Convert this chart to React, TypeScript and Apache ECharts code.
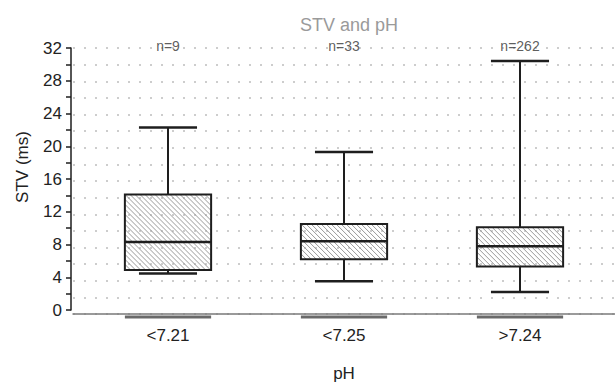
import React, { useEffect, useRef } from "react";
import * as echarts from "echarts";

const categories = ["<7.21", "<7.25", ">7.24"];
const lowWhisker = [4.45, 3.5, 2.2];
const q1 = [4.9, 6.2, 5.3];
const median = [8.3, 8.4, 7.8];
const q3 = [14.1, 10.5, 10.1];
const highWhisker = [22.3, 19.3, 30.4];
const counts = [9, 33, 262];
const yTicks = { min: 0, max: 32, interval: 4 };

const FONT = "'Liberation Sans', Arial, Helvetica, sans-serif";

export default function App() {
  const ref = useRef<HTMLDivElement>(null);
  useEffect(() => {
    if (!ref.current) return;
    const chart = echarts.init(ref.current, null, { renderer: "svg" });
    const boxData = categories.map((_, i) => [
      i,
      lowWhisker[i],
      q1[i],
      median[i],
      q3[i],
      highWhisker[i],
    ]);
    const countData = categories.map((_, i) => [i, yTicks.max, counts[i]]);

    const renderItem = (params: any, api: any) => {
      const idx = api.value(0);
      const low = api.coord([idx, api.value(1)]);
      const pq1 = api.coord([idx, api.value(2)]);
      const pmed = api.coord([idx, api.value(3)]);
      const pq3 = api.coord([idx, api.value(4)]);
      const high = api.coord([idx, api.value(5)]);
      const base = api.coord([idx, 0]);
      const band = api.size([1, 0])[0];
      const bw = band * 0.49;
      const cw = band * 0.33;
      const cx = low[0];
      const x0 = cx - bw / 2;
      const x1 = cx + bw / 2;
      const yTop = pq3[1];
      const yBot = pq1[1];
      const children: any[] = [];
      const step = 5;
      for (let c = yTop - x1 + 1; c < yBot - x0; c += step) {
        const xa = Math.max(x0, yTop - c);
        const xb = Math.min(x1, yBot - c);
        if (xb <= xa) continue;
        children.push({
          type: "line",
          shape: { x1: xa, y1: xa + c, x2: xb, y2: xb + c },
          style: { stroke: "#9a9a9a", lineWidth: 1 },
        });
      }
      const stroke = "#1e1e1e";
      children.push({
        type: "rect",
        shape: { x: x0, y: yTop, width: bw, height: yBot - yTop },
        style: { fill: "none", stroke, lineWidth: 2 },
      });
      children.push({
        type: "line",
        shape: { x1: x0, y1: pmed[1], x2: x1, y2: pmed[1] },
        style: { stroke, lineWidth: 2.5 },
      });
      children.push({
        type: "line",
        shape: { x1: cx, y1: yTop, x2: cx, y2: high[1] },
        style: { stroke, lineWidth: 2 },
      });
      children.push({
        type: "line",
        shape: { x1: cx, y1: yBot, x2: cx, y2: low[1] },
        style: { stroke, lineWidth: 2 },
      });
      children.push({
        type: "line",
        shape: { x1: cx - cw / 2, y1: high[1], x2: cx + cw / 2, y2: high[1] },
        style: { stroke, lineWidth: 2.5 },
      });
      children.push({
        type: "line",
        shape: { x1: cx - cw / 2, y1: low[1], x2: cx + cw / 2, y2: low[1] },
        style: { stroke, lineWidth: 2.5 },
      });
      children.push({
        type: "line",
        shape: { x1: x0, y1: base[1] + 7, x2: x1, y2: base[1] + 7 },
        style: { stroke: "#6a6a6a", lineWidth: 3 },
      });
      return { type: "group", children };
    };

    chart.setOption({
      animation: false,
      backgroundColor: "#ffffff",
      textStyle: { fontFamily: FONT },
      title: {
        text: "STV and pH",
        left: 344,
        top: 11,
        textAlign: "center",
        textStyle: {
          color: "#9a9a9a",
          fontSize: 18,
          fontWeight: "normal",
          fontFamily: FONT,
        },
      },
      grid: [
        { left: 80, width: 528, top: 48, bottom: 73 },
        { left: 73, right: 0, top: 48, bottom: 73 },
      ],
      xAxis: [
        {
          type: "category",
          gridIndex: 0,
          data: categories,
          offset: 7,
          axisLine: { show: false },
          axisTick: { show: false },
          axisLabel: {
            color: "#222",
            fontSize: 17,
            margin: 10,
            fontFamily: FONT,
          },
          name: "pH",
          nameLocation: "middle",
          nameGap: 48,
          nameTextStyle: { color: "#222", fontSize: 17, fontFamily: FONT },
        },
        {
          type: "value",
          gridIndex: 1,
          min: 0,
          max: 1,
          offset: 7,
          axisLine: { show: true, lineStyle: { color: "#7a7a7a", width: 1.5 } },
          axisTick: { show: false },
          axisLabel: { show: false },
          splitLine: { show: false },
        },
      ],
      yAxis: [
        {
          type: "value",
          gridIndex: 0,
          min: yTicks.min,
          max: yTicks.max,
          interval: yTicks.interval,
          offset: 9,
          axisLine: { show: true, lineStyle: { color: "#1e1e1e", width: 1.5 } },
          axisTick: {
            show: true,
            length: 5,
            lineStyle: { color: "#1e1e1e", width: 1.5 },
          },
          minorTick: {
            show: true,
            splitNumber: 2,
            length: 5,
            lineStyle: { color: "#1e1e1e", width: 1.5 },
          },
          axisLabel: {
            color: "#222",
            fontSize: 17,
            margin: 9,
            fontFamily: FONT,
          },
          splitLine: { show: false },
        },
        {
          type: "value",
          gridIndex: 1,
          min: yTicks.min,
          max: yTicks.max,
          interval: yTicks.interval / 2,
          axisLine: { show: false },
          axisTick: { show: false },
          axisLabel: { show: false },
          splitLine: {
            show: true,
            lineStyle: { color: "#bdbdbd", width: 1.5, type: [2, 9] },
          },
        },
      ],
      graphic: [
        {
          type: "text",
          x: 22,
          y: 167,
          rotation: Math.PI / 2,
          style: {
            text: "STV (ms)",
            fill: "#222",
            font: `17px ${FONT}`,
            textAlign: "center",
            textVerticalAlign: "middle",
          },
        },
      ],
      series: [
        {
          type: "custom",
          xAxisIndex: 0,
          yAxisIndex: 0,
          data: boxData,
          encode: { x: 0, y: [1, 2, 3, 4, 5] },
          renderItem,
          z: 3,
        },
        {
          type: "scatter",
          xAxisIndex: 0,
          yAxisIndex: 0,
          data: countData,
          symbolSize: 0,
          label: {
            show: true,
            position: "inside",
            formatter: (p: any) => "n=" + p.value[2],
            color: "#333",
            fontSize: 14,
            fontFamily: FONT,
            offset: [0, -2],
          },
          z: 4,
        },
      ],
    });
    return () => chart.dispose();
  }, []);
  return (
    <div
      ref={ref}
      style={{ position: "fixed", left: 0, top: 0, width: 615, height: 387 }}
    />
  );
}
